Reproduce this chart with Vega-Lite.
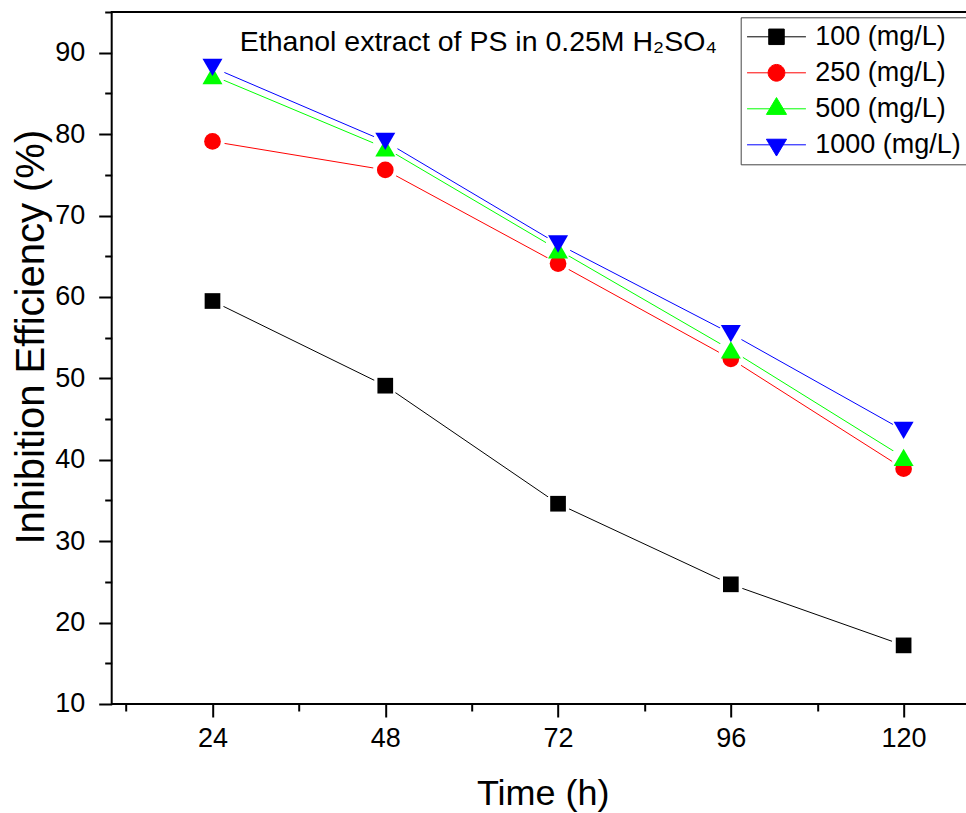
{
  "$schema": "https://vega.github.io/schema/vega-lite/v6.json",
  "width": 856,
  "height": 692,
  "autosize": {"type": "none"},
  "padding": {"left": 111.7, "top": 12, "right": -2, "bottom": 109},
  "background": "white",
  "config": {
    "font": "Liberation Sans",
    "view": {"stroke": "black", "strokeWidth": 2},
    "legend": {"symbolOpacity": 1},
    "axis": {"grid": false, "domain": false, "domainColor": "black", "tickColor": "black", "labelColor": "black", "titleColor": "black", "labelFont": "Liberation Sans", "titleFont": "Liberation Sans", "titleFontWeight": "normal"}
  },
  "datasets": {
    "main": [
      {"time": 24, "series": "100 (mg/L)", "value": 59.5},
      {"time": 48, "series": "100 (mg/L)", "value": 49.1},
      {"time": 72, "series": "100 (mg/L)", "value": 34.6},
      {"time": 96, "series": "100 (mg/L)", "value": 24.7},
      {"time": 120, "series": "100 (mg/L)", "value": 17.2},
      {"time": 24, "series": "250 (mg/L)", "value": 79.1},
      {"time": 48, "series": "250 (mg/L)", "value": 75.6},
      {"time": 72, "series": "250 (mg/L)", "value": 64.1},
      {"time": 96, "series": "250 (mg/L)", "value": 52.4},
      {"time": 120, "series": "250 (mg/L)", "value": 38.9},
      {"time": 24, "series": "500 (mg/L)", "value": 87.2},
      {"time": 48, "series": "500 (mg/L)", "value": 78.3},
      {"time": 72, "series": "500 (mg/L)", "value": 65.8},
      {"time": 96, "series": "500 (mg/L)", "value": 53.5},
      {"time": 120, "series": "500 (mg/L)", "value": 40.3},
      {"time": 24, "series": "1000 (mg/L)", "value": 88.2},
      {"time": 48, "series": "1000 (mg/L)", "value": 79.1},
      {"time": 72, "series": "1000 (mg/L)", "value": 66.5},
      {"time": 96, "series": "1000 (mg/L)", "value": 55.5},
      {"time": 120, "series": "1000 (mg/L)", "value": 43.6}
    ]
  },
  "layer": [
    {
      "data": {"name": "main"},
      "mark": {"type": "line", "strokeWidth": 1, "clip": true},
      "encoding": {
        "x": {"field": "time", "type": "quantitative",
          "scale": {"domain": [10, 128.9], "nice": false, "zero": false},
          "axis": {"orient": "bottom", "offset": 0, "values": [24, 48, 72, 96, 120], "tickSize": 13, "tickWidth": 2, "labelFontSize": 27, "labelPadding": 9, "labelFlush": false, "labelOverlap": false, "title": "Time (h)", "titleFontSize": 36, "titleX": 431, "titleY": 101, "titleBaseline": "alphabetic", "titleAlign": "center"}},
        "y": {"field": "value", "type": "quantitative",
          "scale": {"domain": [10, 95], "nice": false, "zero": false},
          "axis": {"orient": "left", "offset": 0, "values": [10, 20, 30, 40, 50, 60, 70, 80, 90], "tickSize": 13, "tickWidth": 2, "labelFontSize": 27, "labelPadding": 14, "labelFlush": false, "labelOverlap": false, "title": "Inhibition Efficiency (%)", "titleFontSize": 40, "titleX": -68.4, "titleY": 324.7, "titleBaseline": "alphabetic", "titleAngle": -90, "titleAlign": "center"}},
        "color": {"field": "series", "type": "nominal",
          "scale": {"domain": ["100 (mg/L)", "250 (mg/L)", "500 (mg/L)", "1000 (mg/L)"], "range": ["#000000", "#FF0000", "#00FF00", "#0000FF"]},
          "legend": {
            "title": null, "orient": "none", "legendX": 629, "legendY": 5.3,
            "padding": 6, "strokeColor": "#444444", "fillColor": "white",
            "labelFont": "Liberation Sans", "labelFontSize": 27, "labelColor": "black",
            "symbolSize": 240, "symbolStrokeWidth": 1, "symbolOpacity": 1, "symbolOffset": 16.3, "labelOffset": 25.3, "rowPadding": 8
          }}
      }
    },
    {
      "data": {"name": "main"},
      "mark": {"type": "point", "filled": true, "shape": "circle", "size": 600, "color": "white", "opacity": 1},
      "encoding": {
        "x": {"field": "time", "type": "quantitative",
          "axis": {"orient": "bottom", "offset": 0, "values": [12, 36, 60, 84, 108], "tickSize": 7, "tickWidth": 2, "labels": false, "domain": false, "title": null}},
        "y": {"field": "value", "type": "quantitative",
          "axis": {"orient": "left", "offset": 0, "values": [15, 25, 35, 45, 55, 65, 75, 85, 95], "tickSize": 7, "tickWidth": 2, "labels": false, "domain": false, "title": null}}
      }
    },
    {
      "data": {"name": "main"},
      "mark": {"type": "point", "filled": true, "opacity": 0},
      "encoding": {
        "x": {"field": "time", "type": "quantitative", "axis": null},
        "y": {"field": "value", "type": "quantitative", "axis": null},
        "color": {"field": "series", "type": "nominal"},
        "shape": {"field": "series", "type": "nominal",
          "scale": {"domain": ["100 (mg/L)", "250 (mg/L)", "500 (mg/L)", "1000 (mg/L)"], "range": ["M-3.8,0H3.8M-1,-1H1V1H-1Z", "M-3.8,0H3.8M1.08,0A1.08,1.08,0,1,1,-1.08,0A1.08,1.08,0,1,1,1.08,0Z", "M-3.8,0H3.8M0,-1.45L1.3,0.72H-1.3Z", "M-3.8,0H3.8M0,1.45L1.3,-0.72H-1.3Z"]}}
      }
    },
    {
      "data": {"name": "main"},
      "transform": [{"filter": {"field": "series", "equal": "100 (mg/L)"}}],
      "mark": {"type": "point", "filled": true, "opacity": 1, "shape": "square", "size": 246},
      "encoding": {
        "x": {"field": "time", "type": "quantitative", "axis": null},
        "y": {"field": "value", "type": "quantitative", "axis": null},
        "color": {"field": "series", "type": "nominal"}
      }
    },
    {
      "data": {"name": "main"},
      "transform": [{"filter": {"field": "series", "equal": "250 (mg/L)"}}],
      "mark": {"type": "point", "filled": true, "opacity": 1, "shape": "circle", "size": 279},
      "encoding": {
        "x": {"field": "time", "type": "quantitative", "axis": null},
        "y": {"field": "value", "type": "quantitative", "axis": null},
        "color": {"field": "series", "type": "nominal"}
      }
    },
    {
      "data": {"name": "main"},
      "transform": [{"filter": {"field": "series", "equal": "500 (mg/L)"}}],
      "mark": {"type": "point", "filled": true, "opacity": 1, "shape": "triangle-up", "size": 400},
      "encoding": {
        "x": {"field": "time", "type": "quantitative", "axis": null},
        "y": {"field": "value", "type": "quantitative", "axis": null},
        "color": {"field": "series", "type": "nominal"}
      }
    },
    {
      "data": {"name": "main"},
      "transform": [{"filter": {"field": "series", "equal": "1000 (mg/L)"}}],
      "mark": {"type": "point", "filled": true, "opacity": 1, "shape": "triangle-down", "size": 400},
      "encoding": {
        "x": {"field": "time", "type": "quantitative", "axis": null},
        "y": {"field": "value", "type": "quantitative", "axis": null},
        "color": {"field": "series", "type": "nominal"}
      }
    },
    {
      "data": {"values": [{"label": "Ethanol extract of PS in 0.25M H₂SO₄"}]},
      "mark": {"type": "text", "align": "left", "baseline": "alphabetic", "fontSize": 28.5, "font": "Liberation Sans", "color": "black"},
      "encoding": {
        "x": {"datum": 27.8, "type": "quantitative", "axis": null},
        "y": {"datum": 90.2, "type": "quantitative", "axis": null},
        "text": {"field": "label", "type": "nominal"}
      }
    }
  ],
  "resolve": {"axis": {"x": "independent", "y": "independent"}}
}
